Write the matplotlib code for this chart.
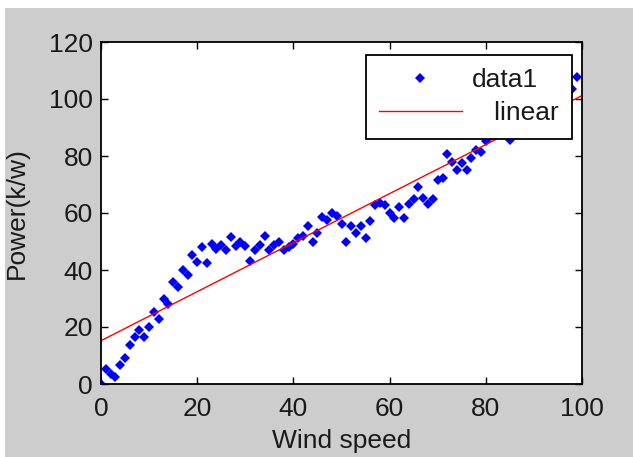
import matplotlib.pyplot as plt
import numpy as np
from matplotlib.patches import Rectangle

plt.rcParams['font.family'] = ['Liberation Sans', 'DejaVu Sans']

# datos (velocidad del viento vs potencia)
wind_speed = np.arange(0, 100)
power = [0, 5.2, 3.5, 2.3, 6.7, 9.2, 13.8, 16.4, 19.0, 16.6,
         19.9, 25.4, 22.7, 30.0, 28.0, 35.9, 33.9, 40.0, 38.2, 45.3,
         42.9, 48.2, 42.4, 49.1, 47.2, 48.9, 46.9, 51.6, 48.3, 50.0,
         48.3, 43.0, 47.0, 48.9, 52.1, 47.0, 48.9, 49.9, 47.1, 48.2,
         49.0, 51.2, 51.9, 55.6, 50.0, 52.9, 58.7, 57.5, 60.1, 59.0,
         56.0, 49.9, 55.4, 52.9, 55.4, 51.1, 57.2, 62.8, 63.6, 62.8,
         60.1, 58.1, 62.0, 58.1, 63.2, 64.8, 69.2, 65.1, 63.2, 64.8,
         71.6, 72.2, 80.6, 78.0, 75.1, 77.4, 75.1, 79.2, 82.1, 81.5,
         85.3, 87.0, 88.5, 90.0, 89.0, 85.6, 92.0, 93.0, 91.0, 95.0,
         96.0, 94.0, 97.0, 99.0, 98.0, 100.0, 101.0, 102.0, 103.4, 107.8]

xticks = [0, 20, 40, 60, 80, 100]
yticks = [0, 20, 40, 60, 80, 100, 120]

# ajuste lineal
coef = np.polyfit(wind_speed, power, 1)
x_fit = np.array([0, 100])
y_fit = np.polyval(coef, x_fit)

fig = plt.figure(figsize=(6.33, 4.57), dpi=100)
fig.patch.set_facecolor('white')
fig.patches.append(Rectangle((5 / 633, 0), 1, 1 - 8 / 457, transform=fig.transFigure,
                             facecolor='#cdcdcd', edgecolor='none', zorder=-10))

ax = fig.add_axes([101 / 633, 1 - 384 / 457, 481 / 633, 342 / 457])
ax.set_facecolor('white')

ax.plot(wind_speed, power, 'D', color='#0000ff', markersize=5.5, markeredgewidth=0, label='data1')
ax.plot(x_fit, y_fit, '-', color='#ff0000', linewidth=1, label='   linear')

ax.set_xlim(0, 100)
ax.set_ylim(0, 120)
ax.set_xticks(xticks)
ax.set_yticks(yticks)
ax.tick_params(direction='in', top=True, right=True, length=5, width=1, labelsize=19,
               labelcolor='#1a1a1a')
ax.tick_params(axis='x', pad=9)
ax.tick_params(axis='y', pad=6)
for s in ax.spines.values():
    s.set_linewidth(1.3)

ax.set_xlabel('Wind speed', fontsize=19, labelpad=6, color='#1a1a1a')
ax.set_ylabel('Power(k/w)', fontsize=19, labelpad=14, color='#1a1a1a')

leg = ax.legend(loc='upper right', bbox_to_anchor=(0.979, 0.962), fontsize=19, numpoints=1,
                handlelength=3.15, handletextpad=0.38, borderpad=0.5, labelspacing=0.35,
                fancybox=False, framealpha=1, edgecolor='black', borderaxespad=0)
leg.get_frame().set_linewidth(1.3)
for t in leg.get_texts():
    t.set_color('#1a1a1a')

plt.savefig('out.png', dpi=100, facecolor=fig.get_facecolor())
